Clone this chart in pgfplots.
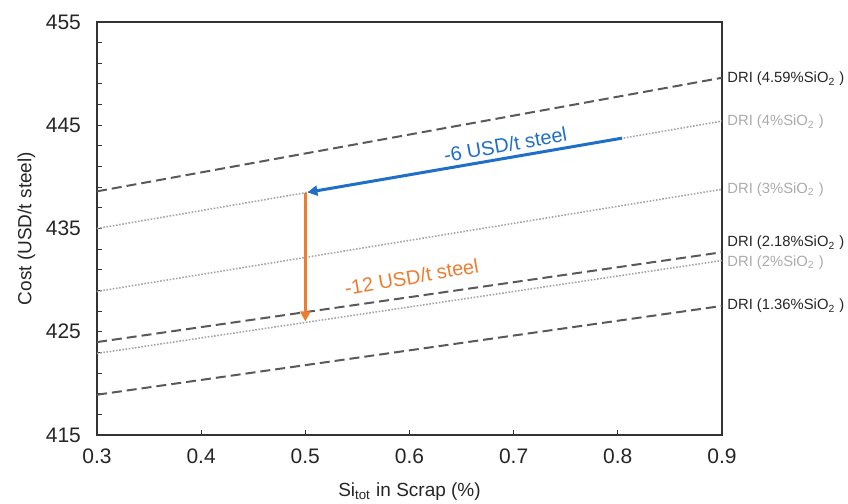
\documentclass[border=0pt]{standalone}
\usepackage{fontspec}
\setmainfont{Liberation Sans}
\usepackage{pgfplots}
\pgfplotsset{compat=1.18}
\usetikzlibrary{arrows.meta}
\definecolor{dkgray}{HTML}{595959}
\definecolor{ltgray}{HTML}{A6A6A6}
\definecolor{lbldark}{HTML}{262626}
\definecolor{lbllight}{HTML}{ABABAB}
\definecolor{myblue}{HTML}{1F6FC8}
\definecolor{myorange}{HTML}{ED7D31}
\begin{document}
\begin{tikzpicture}
\path[use as bounding box] (-48.5pt,-34.5pt) rectangle (375.5pt,217.5pt);
\begin{axis}[
  at={(0,0)}, anchor=south west,
  scale only axis, width=312.5pt, height=206.5pt,
  xmin=0.3, xmax=0.9, ymin=415, ymax=455,
  xtick={0.3,0.4,0.5,0.6,0.7,0.8,0.9},
  xticklabels={0.3,0.4,0.5,0.6,0.7,0.8,0.9},
  ytick={415,425,435,445,455},
  minor y tick num=4,
  xtick pos=bottom, ytick pos=left,
  tick align=inside,
  major tick length=2.5pt, minor tick length=2.5pt,
  /pgf/number format/assume math mode=true,
  tick label style={font=\fontsize{10.5}{12}\selectfont, text=black!85},
  xticklabel style={yshift=-3.5pt},
  yticklabel style={xshift=-4.5pt},
  axis line style={black!80, line width=0.6pt},
  every tick/.style={black!80, line width=0.5pt},
  xlabel={Si\textsubscript{tot} in Scrap (\%)},
  ylabel={Cost (USD/t steel)},
  label style={font=\fontsize{9.5}{11}\selectfont, text=black!85},
  xlabel style={at={(axis description cs:0.5,-0.138)}, anchor=center},
  ylabel style={at={(axis description cs:-0.113,0.5)}, anchor=center},
  clip=false,
]
% DRI lines
\addplot[dkgray, line width=1pt, dash pattern=on 5pt off 2.5pt] coordinates {(0.3,438.6) (0.9,449.6)};
\addplot[ltgray, line width=0.8pt, dash pattern=on 0.8pt off 0.8pt] coordinates {(0.3,435.0) (0.9,445.4)};
\addplot[ltgray, line width=0.8pt, dash pattern=on 0.8pt off 0.8pt] coordinates {(0.3,428.9) (0.9,438.8)};
\addplot[dkgray, line width=1pt, dash pattern=on 5pt off 2.5pt] coordinates {(0.3,424.0) (0.9,432.7)};
\addplot[ltgray, line width=0.8pt, dash pattern=on 0.8pt off 0.8pt] coordinates {(0.3,422.9) (0.9,431.9)};
\addplot[dkgray, line width=1pt, dash pattern=on 5pt off 2.5pt] coordinates {(0.3,418.9) (0.9,427.5)};
% arrows
\addplot[myblue, line width=1.5pt, -{Triangle[length=5pt,width=5pt]}] coordinates {(0.804,443.75) (0.502,438.5)};
\addplot[myorange, line width=1.3pt, -{Triangle[length=5pt,width=5pt]}] coordinates {(0.5,438.4) (0.5,426.0)};
% labels
\begin{scope}[every node/.style={anchor=west, inner sep=0pt, xshift=2.5pt, font=\fontsize{7.4}{9}\selectfont}]
\node[text=lbldark] at (axis cs:0.9,449.5) {DRI (4.59\%SiO\textsubscript{2} )};
\node[text=lbllight] at (axis cs:0.9,445.3) {DRI (4\%SiO\textsubscript{2} )};
\node[text=lbllight] at (axis cs:0.9,438.8) {DRI (3\%SiO\textsubscript{2} )};
\node[text=lbldark] at (axis cs:0.9,433.6) {DRI (2.18\%SiO\textsubscript{2} )};
\node[text=lbllight] at (axis cs:0.9,431.7) {DRI (2\%SiO\textsubscript{2} )};
\node[text=lbldark] at (axis cs:0.9,427.5) {DRI (1.36\%SiO\textsubscript{2} )};
\end{scope}
\node[text=myblue, rotate=10, font=\fontsize{10}{12}\selectfont] at (axis cs:0.692,443.1) {-6 USD/t steel};
\node[text=myorange, rotate=10, font=\fontsize{10}{12}\selectfont] at (axis cs:0.602,430.3) {-12 USD/t steel};
\end{axis}
\end{tikzpicture}
\end{document}
